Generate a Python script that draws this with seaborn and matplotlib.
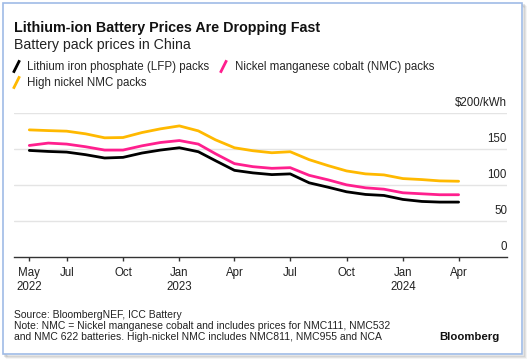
import matplotlib
matplotlib.use("Agg")
import matplotlib.pyplot as plt
from matplotlib.lines import Line2D
from matplotlib.patches import Rectangle
import pandas as pd
import seaborn as sns

# monthly prices, $/kWh, May 2022 - Apr 2024
months = pd.date_range("2022-05-01", "2024-04-01", freq="MS")
lfp = [147.7, 146.3, 145.4, 141.8, 137.2, 138.1, 144.1, 148.2, 151.4, 145.9, 133.5, 120.1,
       116.6, 114.2, 115.2, 102.8, 96.7, 90.4, 86.7, 85.3, 79.8, 77.0, 76.1, 76.1]
nmc = [154.6, 157.9, 156.5, 152.8, 148.2, 148.2, 154.1, 158.7, 161.4, 156.5, 143.1, 129.4,
       125.2, 122.9, 123.8, 113.2, 106.9, 100.0, 95.9, 94.0, 89.0, 87.6, 86.3, 86.3]
high_ni = [176.2, 175.2, 174.4, 170.7, 165.2, 165.6, 172.5, 177.6, 181.7, 174.8, 162.4, 151.4,
           147.3, 144.5, 145.9, 134.9, 126.6, 119.3, 115.2, 113.8, 108.7, 107.3, 105.5, 105.0]

series = ["Lithium iron phosphate (LFP) packs", "Nickel manganese cobalt (NMC) packs",
          "High nickel NMC packs"]
colors = ["#000000", "#ff1f8e", "#ffb900"]

yticks = [0, 50, 100, 150, 200]
ylabels = ["0", "50", "100", "150", "$200/kWh"]
xticks = ["2022-05-01", "2022-07-01", "2022-10-01", "2023-01-01", "2023-04-01",
          "2023-07-01", "2023-10-01", "2024-01-01", "2024-04-01"]
xlabels = ["May\n2022", "Jul", "Oct", "Jan\n2023", "Apr", "Jul", "Oct", "Jan\n2024", "Apr"]

df = pd.DataFrame({"date": list(months) * 3,
                   "price": lfp + nmc + high_ni,
                   "series": [s for s in series for _ in months]})

sns.set_theme(style="white")
plt.rcParams["font.family"] = ["Liberation Sans", "DejaVu Sans"]

W, H = 529, 363
fig = plt.figure(figsize=(W / 100, H / 100), dpi=100)
fig.patch.set_facecolor("white")

# card frame with soft shadow
for i, a in enumerate([0.10, 0.07, 0.04]):
    fig.patches.append(Rectangle(((3 + 2 + i) / W, 1 - (354 + 2 + i) / H), 519 / W, 351 / H,
                                 transform=fig.transFigure, facecolor="none",
                                 edgecolor=(0, 0, 0, a), lw=1.5, zorder=-3))
fig.patches.append(Rectangle((3 / W, 1 - 354 / H), 519 / W, 351 / H, transform=fig.transFigure,
                             facecolor="white", edgecolor="#9fbbe6", lw=1.2, zorder=-2))

ax = fig.add_axes([14 / W, 1 - 257 / H, (507 - 14) / W, (257 - 112.7) / H])
ax.set_zorder(1)
ax.set_facecolor("none")

sns.lineplot(data=df, x="date", y="price", hue="series", hue_order=series,
             palette=colors, linewidth=2, ax=ax, legend=False)
for ln in ax.lines:
    ln.set_clip_on(False)

ax.set_ylim(0, 200)
ax.set_xlim(pd.Timestamp("2022-04-06"), pd.Timestamp("2024-06-19"))
ax.set_xlabel("")
ax.set_ylabel("")
for s in ["top", "right", "left"]:
    ax.spines[s].set_visible(False)
ax.spines["bottom"].set_color("#333333")
ax.spines["bottom"].set_linewidth(1)

for v in yticks[1:]:
    ax.axhline(v, color="#e4e4e4", lw=1, zorder=0)
ax.set_yticks([])
for v, lab in zip(yticks, ylabels):
    ax.annotate(lab, xy=(1, v), xycoords=ax.get_yaxis_transform(), xytext=(0, 3),
                textcoords="offset points", ha="right", va="bottom", fontsize=8.3, color="#222222")

ax.set_xticks([pd.Timestamp(t) for t in xticks])
ax.set_xticklabels(xlabels, fontsize=8.3, color="#222222", linespacing=1.25)
ax.tick_params(axis="x", direction="out", length=3, width=1, color="#333333", pad=4, bottom=True)

# titles
fig.text(14 / W, 1 - 28 / H, "Lithium-ion Battery Prices Are Dropping Fast", fontsize=10.3,
         fontweight="bold", ha="left", va="center", color="#111111")
fig.text(14 / W, 1 - 45 / H, "Battery pack prices in China", fontsize=10.2,
         ha="left", va="center", color="#222222")

# legend: short slanted strokes
handles = [Line2D([], [], linestyle="none", marker=[(-0.5, -1), (0.5, 1)], markersize=9,
                  markeredgewidth=2, color=c) for c in colors]
order = [0, 2, 1]
leg = fig.legend([handles[i] for i in order], [series[i] for i in order], ncol=2,
                 loc="upper left", bbox_to_anchor=(11 / W, 1 - 61 / H), frameon=False,
                 fontsize=8.3, handlelength=0.8, handletextpad=0.6, columnspacing=0.8,
                 labelspacing=0.35, borderaxespad=0, borderpad=0)

# footnotes
fig.text(14 / W, 1 - 315 / H, "Source: BloombergNEF, ICC Battery", fontsize=7.5,
         ha="left", va="center", color="#222222")
fig.text(14 / W, 1 - 326 / H,
         "Note: NMC = Nickel manganese cobalt and includes prices for NMC111, NMC532",
         fontsize=7.5, ha="left", va="center", color="#222222")
fig.text(14 / W, 1 - 337.5 / H,
         "and NMC 622 batteries. High-nickel NMC includes NMC811, NMC955 and NCA",
         fontsize=7.5, ha="left", va="center", color="#222222")
fig.text(499 / W, 1 - 337.5 / H, "Bloomberg", fontsize=8.2, fontweight="bold",
         ha="right", va="center", color="#111111")

fig.savefig("out.png", dpi=100)
